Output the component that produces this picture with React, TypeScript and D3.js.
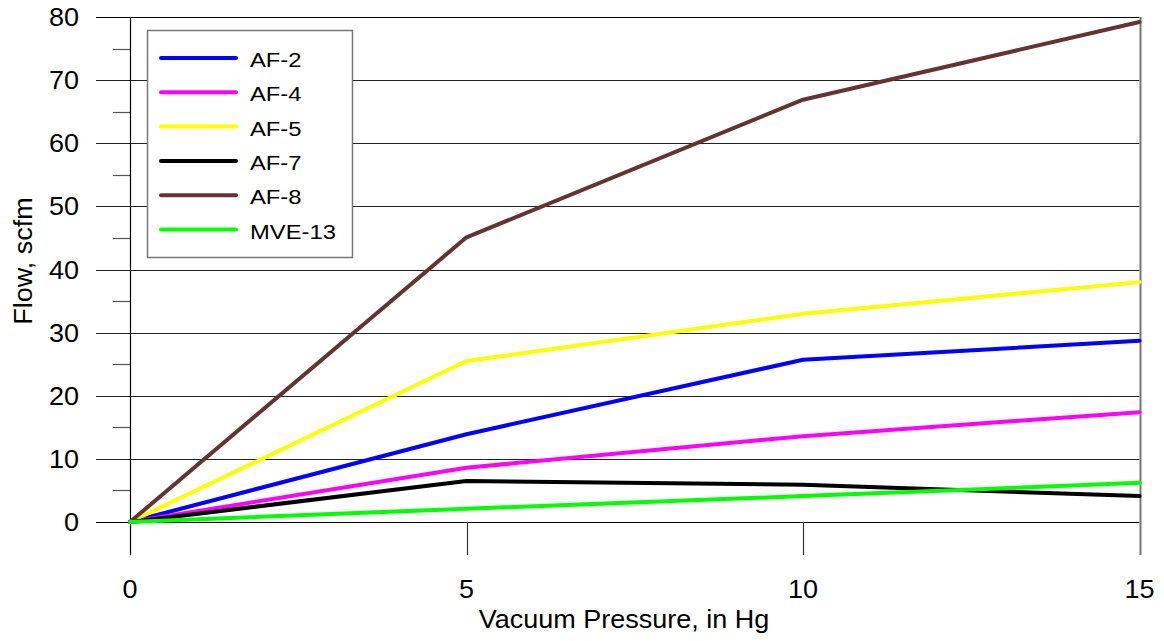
import { useEffect, useRef } from 'react'
import * as d3 from 'd3'

const pressures = [0, 5, 10, 15]
const seriesNames = ['AF-2', 'AF-4', 'AF-5', 'AF-7', 'AF-8', 'MVE-13']
const seriesColors = ['#0000ff', '#ff00ff', '#ffff00', '#000000', '#663333', '#00ff00']
const af2 = [0, 13.9, 25.7, 28.7]
const af4 = [0, 8.6, 13.6, 17.4]
const af5 = [0, 25.5, 33.0, 38.0]
const af7 = [0, 6.5, 5.9, 4.1]
const af8 = [0, 45.1, 66.9, 79.2]
const mve13 = [0, 2.1, 4.1, 6.2]
const yTicks = [0, 10, 20, 30, 40, 50, 60, 70, 80]
const yMinor = [5, 15, 25, 35, 45, 55, 65, 75]

const W = 1164
const H = 641
const FONT = '"Liberation Sans", Arial, sans-serif'
const SX = 1.08 // reference text is a bit wider than Arial

const App = () => {
    const svgRef = useRef<SVGSVGElement>(null)

    useEffect(() => {
        document.body.style.margin = '0'
        if (!svgRef.current) return
        const svg = d3.select(svgRef.current)
        svg.selectAll('*').remove()

        const x = d3.scaleLinear().domain([0, 15]).range([130, 1139.5])
        const y = d3.scaleLinear().domain([0, 80]).range([522, 17])
        const values = [af2, af4, af5, af7, af8, mve13]

        // horizontal gridlines + major ticks
        svg.append('g')
            .selectAll('line')
            .data(yTicks)
            .join('line')
            .attr('x1', 96)
            .attr('x2', x(15))
            .attr('y1', d => Math.round(y(d)) + 0.5)
            .attr('y2', d => Math.round(y(d)) + 0.5)
            .attr('stroke', d => (d === 0 || d === 80 ? '#000' : '#222'))
            .attr('stroke-width', 1.2)

        // minor ticks
        svg.append('g')
            .selectAll('line')
            .data(yMinor)
            .join('line')
            .attr('x1', 113)
            .attr('x2', 130)
            .attr('y1', d => Math.round(y(d)) + 0.5)
            .attr('y2', d => Math.round(y(d)) + 0.5)
            .attr('stroke', '#555')
            .attr('stroke-width', 1.2)

        // y tick labels
        svg.append('g')
            .selectAll('text')
            .data(yTicks)
            .join('text')
            .attr('transform', d => `translate(79, ${y(d)}) scale(${SX}, 1)`)
            .attr('dy', '0.36em')
            .attr('text-anchor', 'end')
            .attr('font-family', FONT)
            .attr('font-size', 25)
            .text(d => d)

        // x ticks
        svg.append('g')
            .selectAll('line')
            .data(pressures)
            .join('line')
            .attr('x1', d => Math.round(x(d)) + 0.5)
            .attr('x2', d => Math.round(x(d)) + 0.5)
            .attr('y1', d => (d === 0 || d === 15 ? y(80) : y(0)))
            .attr('y2', 555)
            .attr('stroke', d => (d === 15 ? '#777' : d === 0 ? '#000' : '#333'))
            .attr('stroke-width', d => (d === 15 ? 2 : 1.2))

        svg.append('g')
            .selectAll('text')
            .data(pressures)
            .join('text')
            .attr('transform', d => `translate(${x(d)}, 598) scale(${SX}, 1)`)
            .attr('text-anchor', 'middle')
            .attr('font-family', FONT)
            .attr('font-size', 25)
            .text(d => d)

        // axis titles
        svg.append('text')
            .attr('transform', `translate(624, 628) scale(${SX}, 1)`)
            .attr('text-anchor', 'middle')
            .attr('font-family', FONT)
            .attr('font-size', 25)
            .text('Vacuum Pressure, in Hg')

        svg.append('text')
            .attr('transform', `translate(32, 261) rotate(-90) scale(${SX}, 1)`)
            .attr('text-anchor', 'middle')
            .attr('font-family', FONT)
            .attr('font-size', 25)
            .text('Flow, scfm')

        // series
        const line = d3
            .line<number>()
            .x((_, i) => x(pressures[i]))
            .y(d => y(d))

        svg.append('g')
            .selectAll('path')
            .data(values)
            .join('path')
            .attr('fill', 'none')
            .attr('stroke', (_, i) => seriesColors[i])
            .attr('stroke-width', 4)
            .attr('stroke-linecap', 'round')
            .attr('stroke-linejoin', 'round')
            .attr('d', d => line(d))

        // legend
        const legend = svg.append('g')
        legend
            .append('rect')
            .attr('x', 147.5)
            .attr('y', 30.5)
            .attr('width', 205)
            .attr('height', 227)
            .attr('fill', '#fff')
            .attr('stroke', '#777')
            .attr('stroke-width', 1.5)

        const rows = legend
            .selectAll('g.row')
            .data(seriesNames)
            .join('g')
            .attr('class', 'row')
            .attr('transform', (_, i) => `translate(0, ${58 + i * 34.3})`)

        rows.append('line')
            .attr('x1', 161)
            .attr('x2', 236)
            .attr('stroke', (_, i) => seriesColors[i])
            .attr('stroke-width', 4)
            .attr('stroke-linecap', 'round')

        rows.append('text')
            .attr('transform', 'translate(250, 9) scale(1.16, 1)')
            .attr('font-family', FONT)
            .attr('font-size', 20.5)
            .text(d => d)
    }, [])

    return <svg ref={svgRef} width={W} height={H} style={{ display: 'block', background: '#fff' }} />
}

export default App
